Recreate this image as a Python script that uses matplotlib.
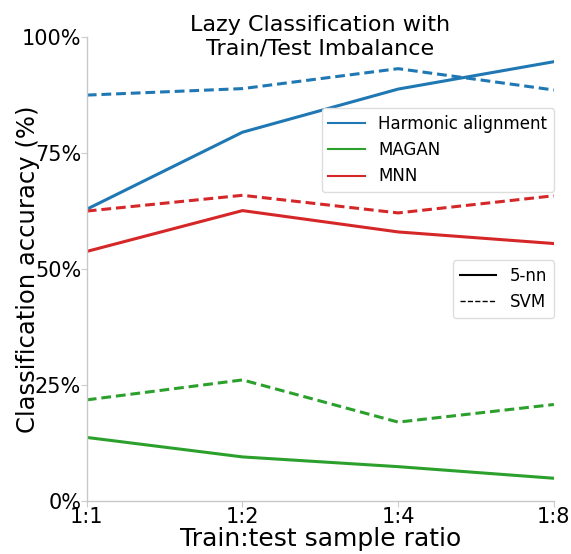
import matplotlib
matplotlib.use("Agg")
import matplotlib.pyplot as plt
from matplotlib.lines import Line2D

ratios = ["1:1", "1:2", "1:4", "1:8"]

harmonic_knn = [62.9, 79.5, 88.8, 94.7]
harmonic_svm = [87.5, 88.9, 93.2, 88.6]
magan_knn = [13.7, 9.5, 7.4, 4.9]
magan_svm = [21.8, 26.1, 17.0, 20.8]
mnn_knn = [53.8, 62.6, 58.0, 55.5]
mnn_svm = [62.5, 65.9, 62.1, 65.8]

methods = ["Harmonic alignment", "MAGAN", "MNN"]
colors = ["#1f77b4", "#2ca02c", "#d62728"]

fig = plt.figure(figsize=(5.71, 5.54), dpi=100)
ax = fig.add_axes([0.152, 0.0957, 0.818, 0.8373])

x = range(len(ratios))
for knn, svm, c in zip([harmonic_knn, magan_knn, mnn_knn],
                       [harmonic_svm, magan_svm, mnn_svm], colors):
    ax.plot(x, knn, color=c, lw=2.2, linestyle='-')
    ax.plot(x, svm, color=c, lw=2.2, linestyle=(0, (3.2, 1.6)))

ax.set_xlim(0, 3)
ax.set_ylim(0, 100)
ax.set_xticks(list(x))
ax.set_xticklabels(ratios, fontsize=15)
ax.set_yticks([0, 25, 50, 75, 100])
ax.set_yticklabels(["0%", "25%", "50%", "75%", "100%"], fontsize=15)
ax.tick_params(length=4, color="#cccccc", pad=0)

for s in ["top", "right"]:
    ax.spines[s].set_visible(False)
for s in ["left", "bottom"]:
    ax.spines[s].set_color("#c8c8c8")
    ax.spines[s].set_linewidth(1.0)

ax.set_xlabel("Train:test sample ratio", fontsize=18, labelpad=0)
ax.set_ylabel("Classification accuracy (%)", fontsize=17.5)
ax.yaxis.set_label_coords(-0.10, 0.5)
ax.set_title("Lazy Classification with\nTrain/Test Imbalance", fontsize=16, y=0.945)

h1 = [Line2D([], [], color=c, lw=1.5) for c in colors]
leg1 = ax.legend(h1, methods, loc="upper right", bbox_to_anchor=(1.0, 0.847),
                 borderaxespad=0, fontsize=12, handlelength=2.2,
                 framealpha=1, edgecolor="#dddddd")
ax.add_artist(leg1)
h2 = [Line2D([], [], color="black", lw=1.5, linestyle='-'),
      Line2D([], [], color="black", lw=1.0, linestyle='--')]
ax.legend(h2, ["5-nn", "SVM"], loc="upper right", bbox_to_anchor=(1.0, 0.519),
          borderaxespad=0, fontsize=12, handlelength=2.2,
          framealpha=1, edgecolor="#dddddd")

fig.savefig("out.png", dpi=100)
